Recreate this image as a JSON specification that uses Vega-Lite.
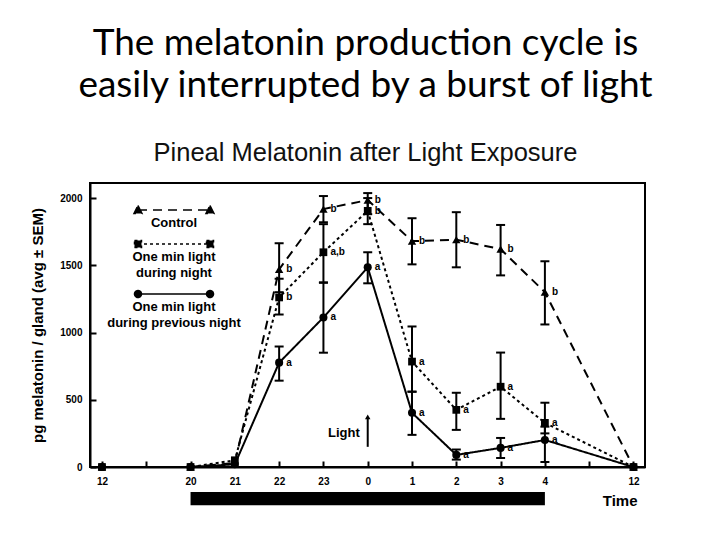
{
  "$schema": "https://vega.github.io/schema/vega-lite/v6.json",
  "width": 555,
  "height": 284,
  "autosize": {"type": "none"},
  "padding": {"left": 90, "top": 183, "right": 75, "bottom": 73},
  "background": "white",
  "title": {
    "text": ["The melatonin production cycle is", "easily interrupted by a burst of light"],
    "subtitle": "Pineal Melatonin after Light Exposure",
    "font": "Lato",
    "fontSize": 37,
    "fontWeight": "normal",
    "lineHeight": 42,
    "color": "black",
    "subtitleFont": "Liberation Sans",
    "subtitleFontSize": 25.5,
    "subtitleColor": "#111111",
    "subtitlePadding": 36,
    "anchor": "middle",
    "dx": -2,
    "offset": 16
  },
  "config": {
    "view": {"stroke": "black", "strokeWidth": 2},
    "font": "Liberation Sans"
  },
  "datasets": {
    "main": [
      {"t": 0, "series": "Control", "v": 0},
      {"t": 2, "series": "Control", "v": 0},
      {"t": 3, "series": "Control", "v": 30},
      {"t": 4, "series": "Control", "v": 1470, "lo": 1300, "hi": 1664, "sig": "b"},
      {"t": 5, "series": "Control", "v": 1918, "lo": 1820, "hi": 2015, "sig": "b"},
      {"t": 6, "series": "Control", "v": 1985, "lo": 1880, "hi": 2037, "sig": "b"},
      {"t": 7, "series": "Control", "v": 1680, "lo": 1507, "hi": 1850, "sig": "b"},
      {"t": 8, "series": "Control", "v": 1690, "lo": 1485, "hi": 1895, "sig": "b"},
      {"t": 9, "series": "Control", "v": 1620, "lo": 1425, "hi": 1800, "sig": "b"},
      {"t": 10, "series": "Control", "v": 1300, "lo": 1060, "hi": 1530, "sig": "b"},
      {"t": 12, "series": "Control", "v": 0},
      {"t": 0, "series": "One min light|during night", "v": 0},
      {"t": 2, "series": "One min light|during night", "v": 0},
      {"t": 3, "series": "One min light|during night", "v": 50},
      {"t": 4, "series": "One min light|during night", "v": 1261, "lo": 1134, "hi": 1400, "sig": "b"},
      {"t": 5, "series": "One min light|during night", "v": 1597, "lo": 1373, "hi": 1806, "sig": "a,b"},
      {"t": 6, "series": "One min light|during night", "v": 1905, "lo": 1806, "hi": 2000, "sig": "b"},
      {"t": 7, "series": "One min light|during night", "v": 784, "lo": 560, "hi": 1045, "sig": "a"},
      {"t": 8, "series": "One min light|during night", "v": 425, "lo": 276, "hi": 552, "sig": "a"},
      {"t": 9, "series": "One min light|during night", "v": 597, "lo": 358, "hi": 851, "sig": "a"},
      {"t": 10, "series": "One min light|during night", "v": 328, "lo": 250, "hi": 478, "sig": "a"},
      {"t": 12, "series": "One min light|during night", "v": 0},
      {"t": 0, "series": "One min light|during previous night", "v": 0},
      {"t": 2, "series": "One min light|during previous night", "v": 0},
      {"t": 3, "series": "One min light|during previous night", "v": 20},
      {"t": 4, "series": "One min light|during previous night", "v": 776, "lo": 642, "hi": 896, "sig": "a"},
      {"t": 5, "series": "One min light|during previous night", "v": 1112, "lo": 850, "hi": 1370, "sig": "a"},
      {"t": 6, "series": "One min light|during previous night", "v": 1485, "lo": 1366, "hi": 1597, "sig": "a"},
      {"t": 7, "series": "One min light|during previous night", "v": 403, "lo": 239, "hi": 560, "sig": "a"},
      {"t": 8, "series": "One min light|during previous night", "v": 90, "lo": 55, "hi": 130, "sig": "a"},
      {"t": 9, "series": "One min light|during previous night", "v": 142, "lo": 67, "hi": 216, "sig": "a"},
      {"t": 10, "series": "One min light|during previous night", "v": 201, "lo": 37, "hi": 300, "sig": "a"},
      {"t": 12, "series": "One min light|during previous night", "v": 0}
    ]
  },
  "layer": [
    {
      "data": {"values": [{"t": 2, "t2": 10, "v": -185, "v2": -285}]},
      "mark": {"type": "rect", "color": "black"},
      "encoding": {
        "x": {
          "field": "t", "type": "quantitative",
          "scale": {"domain": [-0.27, 12.26], "nice": false, "zero": false},
          "axis": {
            "values": [0, 1, 2, 3, 4, 5, 6, 7, 8, 9, 10, 11, 12],
            "labelExpr": "['12','','20','21','22','23','0','1','2','3','4','','12'][datum.value]",
            "tickSize": -6,
            "tickWidth": 2,
            "tickColor": "black",
            "domainColor": "black",
            "domainWidth": 2,
            "grid": false,
            "labelPadding": 15,
            "labelFont": "Liberation Sans",
            "labelFontWeight": "bold",
            "labelFontSize": 10,
            "labelColor": "black",
            "title": "Time",
            "titleFont": "Liberation Sans",
            "titleFontSize": 15,
            "titleFontWeight": "bold",
            "titleColor": "black",
            "titleX": 547,
            "titleY": 33,
            "titleAlign": "right",
            "titleBaseline": "middle"
          }
        },
        "x2": {"field": "t2"},
        "y": {
          "field": "v", "type": "quantitative",
          "scale": {"domain": [0, 2112], "nice": false},
          "axis": {
            "values": [0, 250, 500, 750, 1000, 1250, 1500, 1750, 2000],
            "labelExpr": "datum.value % 500 == 0 ? datum.label : ''",
            "format": "d",
            "tickSize": -6,
            "tickWidth": 2,
            "tickColor": "black",
            "domainColor": "black",
            "domainWidth": 2,
            "grid": false,
            "labelPadding": 14,
            "labelFont": "Liberation Sans",
            "labelFontWeight": "bold",
            "labelFontSize": 10,
            "labelColor": "black",
            "title": "pg melatonin / gland (avg ± SEM)",
            "titleFont": "Liberation Sans",
            "titleFontSize": 15,
            "titleFontWeight": "bold",
            "titleColor": "black",
            "titlePadding": 14
          }
        },
        "y2": {"field": "v2"}
      }
    },
    {
      "data": {"name": "main"},
      "mark": {"type": "line", "color": "black", "strokeWidth": 2},
      "encoding": {
        "x": {"field": "t", "type": "quantitative", "title": "Time"},
        "y": {"field": "v", "type": "quantitative", "title": "pg melatonin / gland (avg ± SEM)"},
        "strokeDash": {
          "field": "series", "type": "nominal",
          "scale": {
            "domain": ["Control", "One min light|during night", "One min light|during previous night"],
            "range": [[9, 6], [3, 3], [1, 0]]
          },
          "legend": {
            "title": null,
            "orient": "none",
            "legendX": 73,
            "legendY": 16,
            "padding": 0,
            "symbolType": "stroke",
            "symbolSize": 400,
            "symbolStrokeWidth": 1.5,
            "symbolStrokeColor": "black",
            "labelOffset": 0,
            "rowPadding": 3,
            "labelFont": "Liberation Sans",
            "labelFontWeight": "bold",
            "labelFontSize": 13,
            "labelColor": "black",
            "labelLimit": 300,
            "labelExpr": "split(datum.label, '|')",
            "encode": {
              "symbols": {
                "update": {
                  "shape": {"signal": "datum.value == 'Control' ? 'M-3.6,0L3.6,0M-3.6,-0.45L-3.2,0.35L-4,0.35ZM3.6,-0.45L4,0.35L3.2,0.35Z' : (datum.value == 'One min light|during night' ? 'M-3.6,0L3.6,0M-3.95,-0.35L-3.25,-0.35L-3.25,0.35L-3.95,0.35ZM3.25,-0.35L3.95,-0.35L3.95,0.35L3.25,0.35Z' : 'M-3.6,0L3.6,0M-3.95,0A0.35,0.35,0,1,0,-3.25,0A0.35,0.35,0,1,0,-3.95,0ZM3.25,0A0.35,0.35,0,1,0,3.95,0A0.35,0.35,0,1,0,3.25,0Z')"},
                  "fill": {"value": "black"},
                  "stroke": {"value": "black"}
                }
              },
              "labels": {
                "update": {
                  "align": {"value": "center"},
                  "baseline": {"value": "top"},
                  "lineHeight": {"value": 16},
                  "dx": {"value": -11},
                  "dy": {"value": 7}
                }
              }
            }
          }
        }
      }
    },
    {
      "data": {"name": "main"},
      "transform": [{"filter": "isValid(datum.lo)"}],
      "mark": {"type": "rule", "color": "black", "strokeWidth": 2},
      "encoding": {
        "x": {"field": "t", "type": "quantitative", "title": "Time"},
        "y": {"field": "lo", "type": "quantitative", "title": "pg melatonin / gland (avg ± SEM)"},
        "y2": {"field": "hi"}
      }
    },
    {
      "data": {"name": "main"},
      "transform": [{"filter": "isValid(datum.lo)"}],
      "mark": {"type": "point", "shape": "stroke", "size": 81, "strokeWidth": 2, "color": "black", "filled": false, "opacity": 1},
      "encoding": {
        "x": {"field": "t", "type": "quantitative", "title": "Time"},
        "y": {"field": "lo", "type": "quantitative", "title": "pg melatonin / gland (avg ± SEM)"}
      }
    },
    {
      "data": {"name": "main"},
      "transform": [{"filter": "isValid(datum.hi)"}],
      "mark": {"type": "point", "shape": "stroke", "size": 81, "strokeWidth": 2, "color": "black", "filled": false, "opacity": 1},
      "encoding": {
        "x": {"field": "t", "type": "quantitative", "title": "Time"},
        "y": {"field": "hi", "type": "quantitative", "title": "pg melatonin / gland (avg ± SEM)"}
      }
    },
    {
      "data": {"name": "main"},
      "transform": [{"filter": "datum.series == 'Control'"}],
      "mark": {"type": "point", "shape": "triangle-up", "filled": true, "size": 70, "color": "black", "opacity": 1},
      "encoding": {
        "x": {"field": "t", "type": "quantitative", "title": "Time"},
        "y": {"field": "v", "type": "quantitative", "title": "pg melatonin / gland (avg ± SEM)"}
      }
    },
    {
      "data": {"name": "main"},
      "transform": [{"filter": "datum.series == 'One min light|during night'"}],
      "mark": {"type": "point", "shape": "square", "filled": true, "size": 60, "color": "black", "opacity": 1},
      "encoding": {
        "x": {"field": "t", "type": "quantitative", "title": "Time"},
        "y": {"field": "v", "type": "quantitative", "title": "pg melatonin / gland (avg ± SEM)"}
      }
    },
    {
      "data": {"name": "main"},
      "transform": [{"filter": "datum.series == 'One min light|during previous night'"}],
      "mark": {"type": "point", "shape": "circle", "filled": true, "size": 65, "color": "black", "opacity": 1},
      "encoding": {
        "x": {"field": "t", "type": "quantitative", "title": "Time"},
        "y": {"field": "v", "type": "quantitative", "title": "pg melatonin / gland (avg ± SEM)"}
      }
    },
    {
      "data": {"name": "main"},
      "transform": [{"filter": "isValid(datum.sig)"}],
      "mark": {"type": "text", "align": "left", "baseline": "middle", "dx": 7, "font": "Liberation Sans", "fontWeight": "bold", "fontSize": 10, "color": "black"},
      "encoding": {
        "x": {"field": "t", "type": "quantitative", "title": "Time"},
        "y": {"field": "v", "type": "quantitative", "title": "pg melatonin / gland (avg ± SEM)"},
        "text": {"field": "sig"}
      }
    },
    {
      "data": {"values": [{"t": 6, "v": 150, "v2": 365, "top": 373, "lv": 254, "label": "Light"}]},
      "layer": [
        {
          "mark": {"type": "rule", "color": "black", "strokeWidth": 2},
          "encoding": {
            "x": {"field": "t", "type": "quantitative", "title": "Time"},
            "y": {"field": "v", "type": "quantitative", "title": "pg melatonin / gland (avg ± SEM)"},
            "y2": {"field": "v2"}
          }
        },
        {
          "mark": {"type": "point", "shape": "triangle-up", "filled": true, "size": 30, "color": "black", "opacity": 1},
          "encoding": {
            "x": {"field": "t", "type": "quantitative", "title": "Time"},
            "y": {"field": "top", "type": "quantitative", "title": "pg melatonin / gland (avg ± SEM)"}
          }
        },
        {
          "mark": {"type": "text", "align": "right", "baseline": "middle", "dx": -8, "font": "Liberation Sans", "fontWeight": "bold", "fontSize": 13, "color": "black"},
          "encoding": {
            "x": {"field": "t", "type": "quantitative", "title": "Time"},
            "y": {"field": "lv", "type": "quantitative", "title": "pg melatonin / gland (avg ± SEM)"},
            "text": {"field": "label"}
          }
        }
      ]
    }
  ]
}
